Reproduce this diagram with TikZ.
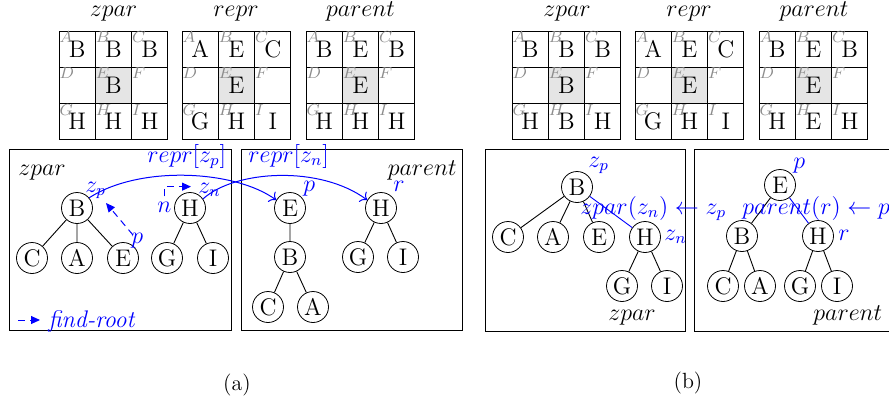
\documentclass[tikz,border=0pt]{standalone}
\usetikzlibrary{arrows.meta}
\newcommand\drawgrid[4]{%
  \fill[black!10] (#1+36.3,#2+36.3) rectangle ++(36.3,36.3);
  \foreach \c/\r/\g/\l in {#4}{%
    \node[cell] (#3-\c-\r) at ({#1+18.15+36.3*\c},{#2+18.15+36.3*\r}) {\l};
    \node[glab] at (#3-\c-\r.north west) {$\g$};
  }%
}
\begin{document}
\begin{tikzpicture}[x=0.5pt,y=-0.5pt,
  cell/.style={draw, line width=0.5pt, minimum size=18.15pt, inner sep=0pt, font=\large},
  glab/.style={anchor=north west, inner sep=0.3pt, text=black!45, font=\footnotesize},
  title/.style={anchor=base, inner sep=0pt, font=\large},
  tn/.style={draw, circle, minimum size=15.5pt, inner sep=0pt, font=\large},
  lab/.style={inner sep=0pt, anchor=base west, font=\large},
  blab/.style={lab, text=blue},
  arc/.style={blue, line width=0.5pt, -{To[length=3pt]}},
  findroot/.style={blue, line width=0.5pt, dash pattern=on 3.5pt off 2.5pt, -{Triangle[length=4.5pt,width=4pt]}},
  box/.style={draw, line width=0.5pt},
  edge/.style={line width=0.45pt},
]
\useasboundingbox (0,0) rectangle (889,413);

% ---------- grids (a)
\node[title] (t1) at (113.5,16) {$zpar$};
\node[title] (t2) at (236,16) {$repr$};
\node[title] (t3) at (360.5,16) {$parent$};
\drawgrid{59}{31}{az}{0/0/A/B, 1/0/B/B, 2/0/C/B, 0/1/D/{}, 1/1/E/B, 2/1/F/{}, 0/2/G/H, 1/2/H/H, 2/2/I/H}
\drawgrid{182}{31}{ar}{0/0/A/A, 1/0/B/E, 2/0/C/C, 0/1/D/{}, 1/1/E/E, 2/1/F/{}, 0/2/G/G, 1/2/H/H, 2/2/I/I}
\drawgrid{306}{31}{ap}{0/0/A/B, 1/0/B/E, 2/0/C/B, 0/1/D/{}, 1/1/E/E, 2/1/F/{}, 0/2/G/H, 1/2/H/H, 2/2/I/H}

% ---------- grids (b)
\node[title] (t4) at (567,16) {$zpar$};
\node[title] (t5) at (689,16) {$repr$};
\node[title] (t6) at (814,16) {$parent$};
\drawgrid{512}{31}{bz}{0/0/A/B, 1/0/B/B, 2/0/C/B, 0/1/D/{}, 1/1/E/B, 2/1/F/{}, 0/2/G/H, 1/2/H/B, 2/2/I/H}
\drawgrid{635}{31}{br}{0/0/A/A, 1/0/B/E, 2/0/C/C, 0/1/D/{}, 1/1/E/E, 2/1/F/{}, 0/2/G/G, 1/2/H/H, 2/2/I/I}
\drawgrid{759}{31}{bp}{0/0/A/B, 1/0/B/E, 2/0/C/B, 0/1/D/{}, 1/1/E/E, 2/1/F/{}, 0/2/G/H, 1/2/H/E, 2/2/I/H}

% ---------- boxes
\draw[box] (9,149) rectangle (231,330);
\draw[box] (241,149) rectangle (462,330);
\draw[box] (485,149) rectangle (685,331);
\draw[box] (694,149) rectangle (900,331);

% ---------- (a) zpar forest
\node[tn] (aB) at (77,208) {B};
\node[tn] (aC) at (32,258) {C};
\node[tn] (aA) at (77,258) {A};
\node[tn] (aE) at (123,258) {E};
\node[tn] (aH) at (190,208) {H};
\node[tn] (aG) at (167,258) {G};
\node[tn] (aI) at (213,258) {I};
\draw[edge] (aB) -- (aC) (aB) -- (aA) (aB) -- (aE) (aH) -- (aG) (aH) -- (aI);

% ---------- (a) parent forest
\node[tn] (pE) at (290,208) {E};
\node[tn] (pB) at (290,257) {B};
\node[tn] (pC) at (268,307) {C};
\node[tn] (pA) at (313,307) {A};
\node[tn] (pH) at (381,208) {H};
\node[tn] (pG) at (358,257) {G};
\node[tn] (pI) at (403,257) {I};
\draw[edge] (pE) -- (pB) (pB) -- (pC) (pB) -- (pA) (pH) -- (pG) (pH) -- (pI);

% ---------- (a) labels
\node[lab] (lzpar) at (18,175) {$zpar$};
\node[lab, anchor=base east] (lparent) at (457,175) {$parent$};
\node[blab] (lrzp) at (147,162) {$repr[z_p]$};
\node[blab] (lrzn) at (248,162) {$repr[z_n]$};
\node[blab] (azp) at (85,192) {$z_p$};
\node[blab] (ap) at (131,243) {$p$};
\node[blab] (an) at (157,212) {$n$};
\node[blab] (azn) at (198,193) {$z_n$};
\node[blab] (pp) at (303,191) {$p$};
\node[blab] (pr) at (393,191) {$r$};

\draw[arc] (aB.40) .. controls (140,165) and (235,170) .. (pE.150);
\draw[arc] (aH.35) .. controls (235,170) and (320,165) .. (pH.150);

\coordinate (fr1) at (133,235);
\coordinate (fr2) at (106,203);
\draw[findroot] (fr1) -- (fr2);
\draw[findroot] ([yshift=2.5pt]an.north) |- ([xshift=-3.5pt,yshift=1.5pt]azn.west);

\coordinate (lg1) at (18,320);
\coordinate (lg2) at (40,320);
\draw[findroot] (lg1) -- (lg2);
\node[blab] (lfr) at (48,327) {\textit{find-root}};

% ---------- (b) zpar tree
\node[tn] (bB) at (577,187) {B};
\node[tn] (bC) at (508,237) {C};
\node[tn] (bA) at (553,237) {A};
\node[tn] (bE) at (599,237) {E};
\node[tn] (bH) at (645,237) {H};
\node[tn] (bG) at (622,286) {G};
\node[tn] (bI) at (667,286) {I};
\draw[edge] (bB) -- (bC) (bB) -- (bA) (bB) -- (bE) (bH) -- (bG) (bH) -- (bI);
\draw[edge, blue] (bB) -- (bH);

% ---------- (b) parent tree
\node[tn] (qE) at (780,185) {E};
\node[tn] (qB) at (742,236) {B};
\node[tn] (qH) at (818,236) {H};
\node[tn] (qC) at (723,286) {C};
\node[tn] (qA) at (760,286) {A};
\node[tn] (qG) at (800,286) {G};
\node[tn] (qI) at (837,286) {I};
\draw[edge] (qE) -- (qB) (qB) -- (qC) (qB) -- (qA) (qH) -- (qG) (qH) -- (qI);
\draw[edge, blue] (qE) -- (qH);

% ---------- (b) labels
\node[blab] (bzp) at (588,167) {$z_p$};
\node[blab] (bzn) at (664,240) {$z_n$};
\node[lab] (bzpar) at (608,320) {$zpar$};
\node[blab] (bupd1) at (580,214) {$zpar(z_n) \leftarrow z_p$};
\node[blab] (bupd2) at (742,214) {$parent(r) \leftarrow p$};
\node[blab] (qp) at (793,168) {$p$};
\node[blab] (qr) at (838,240) {$r$};
\node[lab] (bparent) at (813,320) {$parent$};

% ---------- captions
\node[font=\fontsize{11}{13}\selectfont] (capa) at (237,385) {(a)};
\node[font=\fontsize{11}{13}\selectfont] (capb) at (688,383) {(b)};
\end{tikzpicture}
\end{document}
